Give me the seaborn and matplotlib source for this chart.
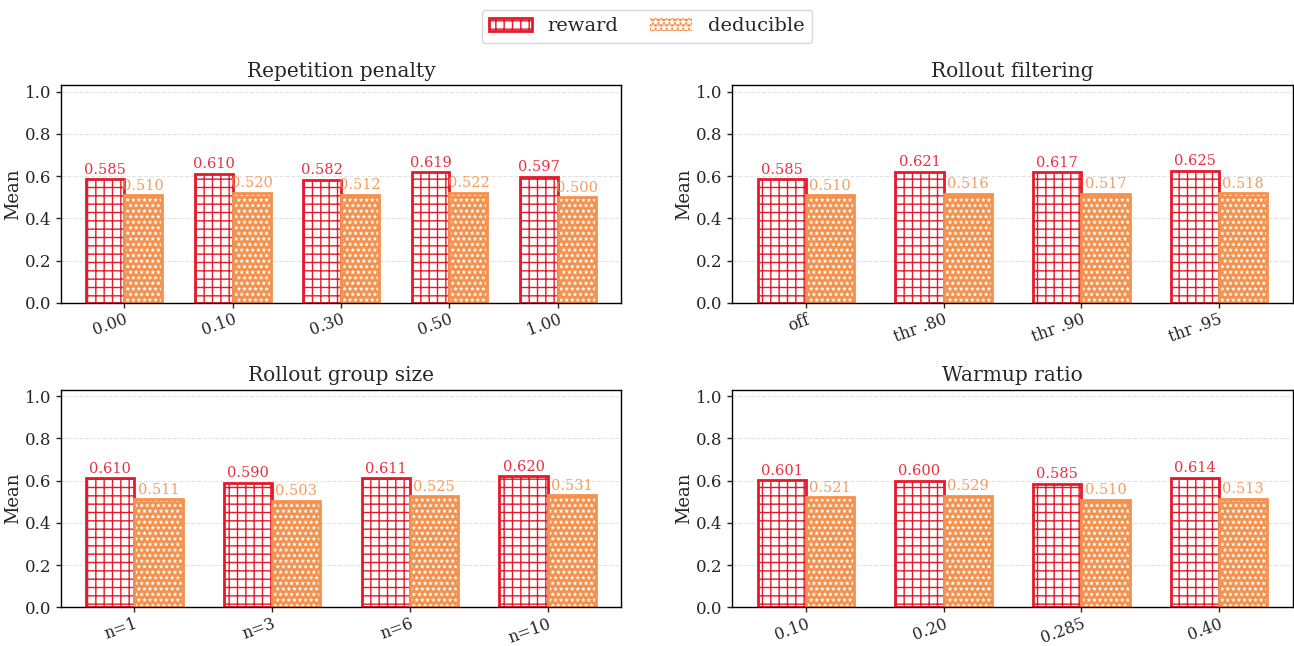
import pandas as pd
import seaborn as sns
import matplotlib.pyplot as plt
from matplotlib.patches import Patch, Rectangle

# data
titles = ["Repetition penalty", "Rollout filtering", "Rollout group size", "Warmup ratio"]

rep_cats = ["0.00", "0.10", "0.30", "0.50", "1.00"]
rep_reward = [0.585, 0.610, 0.582, 0.619, 0.597]
rep_deduc = [0.510, 0.520, 0.512, 0.522, 0.500]

filt_cats = ["off", "thr .80", "thr .90", "thr .95"]
filt_reward = [0.585, 0.621, 0.617, 0.625]
filt_deduc = [0.510, 0.516, 0.517, 0.518]

grp_cats = ["n=1", "n=3", "n=6", "n=10"]
grp_reward = [0.610, 0.590, 0.611, 0.620]
grp_deduc = [0.511, 0.503, 0.525, 0.531]

warm_cats = ["0.10", "0.20", "0.285", "0.40"]
warm_reward = [0.601, 0.600, 0.585, 0.614]
warm_deduc = [0.521, 0.529, 0.510, 0.513]

panels = [
    (rep_cats, rep_reward, rep_deduc),
    (filt_cats, filt_reward, filt_deduc),
    (grp_cats, grp_reward, grp_deduc),
    (warm_cats, warm_reward, warm_deduc),
]

RED = "#e6192b"
ORANGE = "#f3924f"
WIDTH = 0.7

sns.set_theme(style="ticks")
plt.rcParams["font.family"] = ["DejaVu Serif"]
plt.rcParams["hatch.linewidth"] = 1.0

fig, axes = plt.subplots(2, 2, figsize=(12.94, 6.46), dpi=100)
fig.subplots_adjust(left=0.047, right=0.999, top=0.868, bottom=0.06, wspace=0.198, hspace=0.40)


def star_patch(p):
    p.set_facecolor(ORANGE)
    p.set_edgecolor("white")
    p.set_hatch("***")
    p.set_linewidth(0)
    if hasattr(p, "set_hatch_linewidth"):
        p.set_hatch_linewidth(0.2)


def plot_panel(ax, title, cats, reward, deduc):
    n = len(cats)
    data = pd.DataFrame({
        "cat": cats * 2,
        "metric": ["reward"] * n + ["deducible"] * n,
        "value": reward + deduc,
    })
    sns.barplot(data=data, x="cat", y="value", hue="metric", order=cats,
                hue_order=["reward", "deducible"], palette=[RED, ORANGE],
                width=WIDTH, legend=False, ax=ax)

    bars = [p for p in ax.patches if isinstance(p, Rectangle)]
    for i, p in enumerate(bars[:2 * n]):
        if i < n:
            p.set_facecolor("white")
            p.set_edgecolor(RED)
            p.set_hatch("++")
            p.set_linewidth(2)
            color, val = RED, reward[i]
        else:
            star_patch(p)
            ax.add_patch(Rectangle((p.get_x(), 0), p.get_width(), p.get_height(),
                                   fill=False, edgecolor=ORANGE, linewidth=2, zorder=p.get_zorder() + 0.1))
            color, val = ORANGE, deduc[i - n]
        ax.text(p.get_x() + p.get_width() / 2, p.get_height() + 0.012, f"{val:.3f}",
                ha="center", va="bottom", fontsize=10.5, color=color, alpha=0.9)

    span = n - 1 + WIDTH
    ax.set_xlim(-WIDTH / 2 - 0.05 * span, n - 1 + WIDTH / 2 + 0.05 * span)
    ax.set_ylim(0, 1.03)
    ax.set_yticks([0.0, 0.2, 0.4, 0.6, 0.8, 1.0])
    ax.set_yticklabels([f"{t:.1f}" for t in [0.0, 0.2, 0.4, 0.6, 0.8, 1.0]], fontsize=12)
    ax.set_xticks(range(n))
    ax.set_xticklabels(cats, rotation=20, ha="right", rotation_mode="anchor", fontsize=11.5)
    ax.tick_params(axis="both", length=3.5, width=1.0, pad=3.5)
    ax.tick_params(axis="x", pad=2.5)
    ax.grid(axis="y", linestyle="--", color="#e2e2e2", linewidth=0.8)
    ax.set_axisbelow(True)
    ax.set_title(title, fontsize=14.5)
    ax.set_xlabel("")
    ax.set_ylabel("Mean", fontsize=13, labelpad=2)
    for s in ax.spines.values():
        s.set_linewidth(1.0)
        s.set_color("black")


for ax, title, (cats, reward, deduc) in zip(axes.flat, titles, panels):
    plot_panel(ax, title, cats, reward, deduc)

red_handle = Patch(facecolor="white", edgecolor=RED, hatch="++", linewidth=2, label="reward")
orange_handle = Patch(label="deducible")
star_patch(orange_handle)
fig.legend(handles=[red_handle, orange_handle], loc="upper center", bbox_to_anchor=(0.5, 1.0), ncol=2,
           fontsize=14, handlelength=2.2, handleheight=0.7, columnspacing=1.6,
           frameon=True, edgecolor="#cccccc")

fig.savefig("out.png", dpi=100)
